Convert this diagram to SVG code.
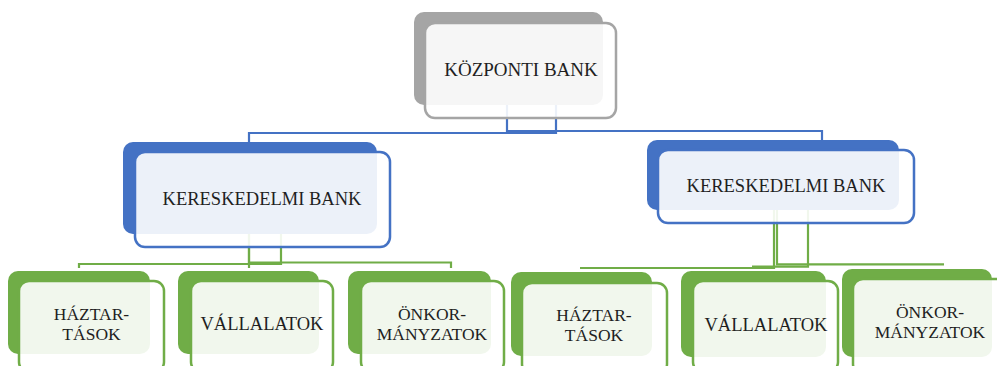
<svg xmlns="http://www.w3.org/2000/svg" width="997" height="366" viewBox="0 0 997 366">
<style>
.bk{stroke:none}
.fr{fill:#ffffff;fill-opacity:0.9;stroke-width:2.5}
.gray .bk{fill:#a5a5a5}.gray .fr{stroke:#a5a5a5}
.blue .bk{fill:#4472c4}.blue .fr{stroke:#4472c4}
.green .bk{fill:#70ad47}.green .fr{stroke:#70ad47}
text{font-family:"Liberation Serif","Times New Roman",serif;font-size:18.5px;fill:#1f1f1f;text-anchor:middle}
text.two{font-size:17.5px}
.cb{fill:none;stroke:#4472c4;stroke-width:2.2}
.cg{fill:none;stroke:#70ad47;stroke-width:2.2}
</style>
<rect width="997" height="366" fill="#ffffff"/>
<g id="connectors">
<path class="cb" d="M556,105 V133 H249 V143"/>
<path class="cb" d="M507,105 V131 H822 V140"/>
<path class="cg" d="M281,234 V264 H79 V268"/>
<path class="cg" d="M249,234 V264 V268"/>
<path class="cg" d="M249,234 V262.5 H451 V268"/>
<path class="cg" d="M774,210 V268 H580"/>
<path class="cg" d="M808,210 V266.7 H752"/>
<path class="cg" d="M777,210 V264.3 H944"/>
</g>
<g id="central" class="gray">
<rect class="bk" x="414" y="12" width="189" height="93" rx="10"/>
<rect class="fr" x="425" y="23" width="191" height="95" rx="10"/>
<text x="521" y="76" style="font-size:19px">KÖZPONTI BANK</text>
</g>
<g id="bank-left" class="blue">
<rect class="bk" x="123" y="142" width="254" height="92" rx="10"/>
<rect class="fr" x="135" y="152" width="255" height="95" rx="10"/>
<text x="262" y="205">KERESKEDELMI BANK</text>
</g>
<g id="bank-right" class="blue">
<rect class="bk" x="647" y="140" width="252" height="70" rx="10"/>
<rect class="fr" x="658" y="150" width="256" height="73" rx="10"/>
<text x="786" y="192">KERESKEDELMI BANK</text>
</g>
<g id="l-haztartasok" class="green">
<rect class="bk" x="8" y="271" width="142" height="83" rx="10"/>
<rect class="fr" x="19" y="281" width="145" height="91" rx="10"/>
<text class="two" x="91.5" y="320">HÁZTAR-</text>
<text class="two" x="91.5" y="340">TÁSOK</text>
</g>
<g id="l-vallalatok" class="green">
<rect class="bk" x="178" y="271" width="141" height="83" rx="10"/>
<rect class="fr" x="191" y="281" width="142" height="91" rx="10"/>
<text x="262" y="330">VÁLLALATOK</text>
</g>
<g id="l-onkormanyzatok" class="green">
<rect class="bk" x="348" y="271" width="143" height="83" rx="10"/>
<rect class="fr" x="361" y="281" width="143" height="91" rx="10"/>
<text class="two" x="432" y="320">ÖNKOR-</text>
<text class="two" x="432" y="340">MÁNYZATOK</text>
</g>
<g id="r-haztartasok" class="green">
<rect class="bk" x="511" y="272" width="141" height="84" rx="10"/>
<rect class="fr" x="522" y="283" width="145" height="91" rx="10"/>
<text class="two" x="594" y="321">HÁZTAR-</text>
<text class="two" x="594" y="341">TÁSOK</text>
</g>
<g id="r-vallalatok" class="green">
<rect class="bk" x="681" y="271" width="145" height="86" rx="10"/>
<rect class="fr" x="693" y="281" width="145" height="91" rx="10"/>
<text x="766" y="331">VÁLLALATOK</text>
</g>
<g id="r-onkormanyzatok" class="green">
<rect class="bk" x="842" y="269" width="150" height="88" rx="10"/>
<rect class="fr" x="853" y="279" width="155" height="95" rx="10"/>
<text class="two" x="930" y="318">ÖNKOR-</text>
<text class="two" x="930" y="338">MÁNYZATOK</text>
</g>
</svg>
